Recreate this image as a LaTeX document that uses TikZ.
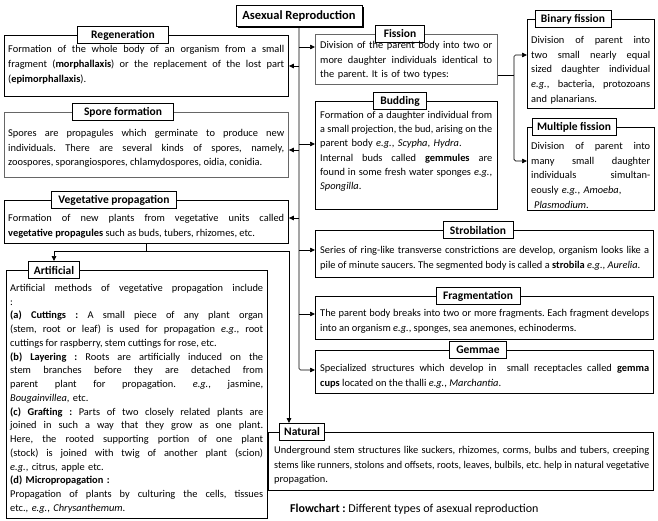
\documentclass[tikz,border=0pt]{standalone}
\usepackage{fontspec}
\setmainfont{Carlito}
\usepackage{graphicx}
\usetikzlibrary{arrows.meta,shadows}
\frenchspacing
\newcommand\jline[1]{\sbox0{\spaceskip=0pt\xspaceskip=0pt #1}\ifdim\wd0>\hsize\resizebox{\hsize}{\height}{\usebox0}\else\makebox[\hsize][s]{\spaceskip=0pt\xspaceskip=0pt #1}\fi}
\newcommand\lline[1]{\sbox0{\spaceskip=0pt\xspaceskip=0pt #1}\ifdim\wd0>\hsize\resizebox{\hsize}{\height}{\usebox0}\else\usebox0\fi}
\begin{document}
\frenchspacing
\begin{tikzpicture}[x=1pt,y=-1pt,
  mbox/.style={draw, line width=0.9pt, inner sep=0pt, anchor=north west},
  gbox/.style={mbox, draw=black!60},
  tbox/.style={draw, fill=white, line width=0.9pt, font=\bfseries\fontsize{11.5}{13}\selectfont, inner xsep=7pt, inner ysep=0pt, minimum height=17pt},
  txt/.style={anchor=north west, inner sep=0pt, align=left, font=\fontsize{10.4}{14.7}\selectfont, execute at begin node={\setlength{\parindent}{0pt}\frenchspacing}},
  arr/.style={-{Triangle[length=5pt,width=4.5pt]}, line width=0.7pt},
  ln/.style={line width=0.7pt}]
\useasboundingbox (0,0) rectangle (658,521);

% ---------- main title
\node[draw, fill=white, line width=0.9pt, minimum width=126pt, minimum height=21pt, inner sep=0pt,
  font=\bfseries\fontsize{12.5}{14}\selectfont,
  drop shadow={shadow xshift=2pt, shadow yshift=-2pt, fill=black, opacity=1}] (asex) at (299,16) {Asexual Reproduction};

% ---------- Regeneration
\node[mbox, minimum width=284pt, minimum height=61pt] (reg) at (4,35) {};
\node[tbox, inner xsep=14pt] (regT) at (123,35) {Regeneration};
\node[txt, text width=276pt] (regX) at (8,45.5) {%
\jline{Formation of the whole body of an organism from a small}\\
\jline{fragment (\textbf{morphallaxis}) or the replacement of the lost part}\\
(\textbf{epimorphallaxis}).};

% ---------- Spore formation
\node[gbox, minimum width=284pt, minimum height=65pt] (spo) at (4,112) {};
\node[tbox, inner xsep=12pt] (spoT) at (123,112) {Spore formation};
\node[txt, text width=276pt] (spoX) at (8,129) {%
\jline{Spores are propagules which germinate to produce new}\\
\jline{individuals. There are several kinds of spores, namely,}\\
\lline{zoospores, sporangiospores, chlamydospores, oidia, conidia.}};

% ---------- Vegetative propagation
\node[mbox, minimum width=284pt, minimum height=43pt] (veg) at (4,200) {};
\node[tbox] (vegT) at (114,200) {Vegetative propagation};
\node[txt, text width=276pt] (vegX) at (8,214) {%
\jline{Formation of new plants from vegetative units called}\\
\lline{\textbf{vegetative propagules} such as buds, tubers, rhizomes, etc.}};

% ---------- Artificial
\node[mbox, minimum width=261pt, minimum height=248pt] (art) at (6,270) {};
\node[tbox, inner xsep=5pt] (artT) at (54,270) {Artificial};
\node[txt, text width=253pt, font=\fontsize{10.4}{13.75}\selectfont] (artX) at (10,284) {%
\jline{Artificial methods of vegetative propagation include}\\
:\\
\jline{\textbf{(a) Cuttings :} A small piece of any plant organ}\\
\jline{(stem, root or leaf) is used for propagation \textit{e.g.}, root}\\
\lline{cuttings for raspberry, stem cuttings for rose, etc.}\\
\jline{\textbf{(b) Layering :} Roots are artificially induced on the}\\
\jline{stem branches before they are detached from}\\
\jline{parent plant for propagation. \textit{e.g.}, jasmine,}\\
\textit{Bougainvillea}, etc.\\
\jline{\textbf{(c) Grafting :} Parts of two closely related plants are}\\
\jline{joined in such a way that they grow as one plant.}\\
\jline{Here, the rooted supporting portion of one plant}\\
\jline{(stock) is joined with twig of another plant (scion)}\\
\textit{e.g.}, citrus, apple etc.\\
\textbf{(d) Micropropagation :}\\
\jline{Propagation of plants by culturing the cells, tissues}\\
etc., \textit{e.g.}, \textit{Chrysanthemum}.};

% ---------- Fission
\node[gbox, minimum width=182pt, minimum height=50pt] (fis) at (315,34) {};
\node[tbox, inner xsep=8pt] (fisT) at (400,34) {Fission};
\node[txt, text width=172pt] (fisX) at (320,41) {%
\jline{Division of the parent body into two or}\\
\jline{more daughter individuals identical to}\\
the parent. It is of two types:};

% ---------- Binary fission
\node[mbox, minimum width=127pt, minimum height=89pt] (bin) at (527,19) {};
\node[tbox, inner xsep=6pt] (binT) at (573,19) {Binary fission};
\node[txt, text width=119pt] (binX) at (531,36) {%
\jline{Division of parent into}\\
\jline{two small nearly equal}\\
\jline{sized daughter individual}\\
\jline{\textit{e.g.}, bacteria, protozoans}\\
and planarians.};

% ---------- Multiple fission
\node[mbox, minimum width=127pt, minimum height=83pt] (mul) at (527,127) {};
\node[tbox, inner xsep=5pt] (mulT) at (574,127) {Multiple fission};
\node[txt, text width=119pt] (mulX) at (531,142) {%
\jline{Division of parent into}\\
\jline{many small daughter}\\
\jline{individuals simultan-}\\
eously \textit{e.g.}, \textit{Amoeba},\\
\hspace*{3pt}\textit{Plasmodium}.};

% ---------- Budding
\node[mbox, minimum width=182pt, minimum height=108pt] (bud) at (315,101) {};
\node[tbox] (budT) at (400,101) {Budding};
\node[txt, text width=172pt, font=\fontsize{10.4}{14.2}\selectfont] (budX) at (320,111) {%
\jline{Formation of a daughter individual from}\\
\jline{a small projection, the bud, arising on the}\\
parent body \textit{e.g.}, \textit{Scypha}, \textit{Hydra}.\\
\jline{Internal buds called \textbf{gemmules} are}\\
\jline{found in some fresh water sponges \textit{e.g.},}\\
\textit{Spongilla}.};

% ---------- Strobilation
\node[mbox, minimum width=338pt, minimum height=47pt] (str) at (315,230) {};
\node[tbox] (strT) at (478,230) {Strobilation};
\node[txt, text width=329pt] (strX) at (320,246.5) {%
\jline{Series of ring-like transverse constrictions are develop, organism looks like a}\\
\lline{pile of minute saucers. The segmented body is called a \textbf{strobila} \textit{e.g.}, \textit{Aurelia}.}};

% ---------- Fragmentation
\node[mbox, minimum width=338pt, minimum height=43pt] (fra) at (315,296) {};
\node[tbox] (fraT) at (478,296) {Fragmentation};
\node[txt, text width=329pt] (fraX) at (320,309) {%
\jline{The parent body breaks into two or more fragments. Each fragment develops}\\
\lline{into an organism \textit{e.g.}, sponges, sea anemones, echinoderms.}};

% ---------- Gemmae
\node[mbox, minimum width=338pt, minimum height=43pt] (gem) at (315,350) {};
\node[tbox] (gemT) at (478,350) {Gemmae};
\node[txt, text width=329pt] (gemX) at (320,364) {%
\jline{Specialized structures which develop in \ small receptacles called \textbf{gemma}}\\
\lline{\textbf{cups} located on the thalli \textit{e.g.}, \textit{Marchantia}.}};

% ---------- Natural
\node[mbox, minimum width=385pt, minimum height=58pt] (nat) at (268,432) {};
\node[tbox, inner xsep=5pt] (natT) at (302,432) {Natural};
\node[txt, text width=375pt] (natX) at (274,446) {%
\jline{Underground stem structures like suckers, rhizomes, corms, bulbs and tubers, creeping}\\
\jline{stems like runners, stolons and offsets, roots, leaves, bulbils, etc. help in natural vegetative}\\
propagation.};

% ---------- caption
\node[anchor=west, inner sep=0pt, font=\fontsize{12}{14}\selectfont] (cap) at (290,509)
  {\textbf{Flowchart :} Different types of asexual reproduction};

% ---------- connectors
\draw[arr, rounded corners=1.5pt] (asex.south) |- (gem.west |- 0,370);
\draw[arr] (asex.south |- 0,47) -- (fis.west |- 0,47);
\draw[arr] (asex.south |- 0,66) -- (reg.east |- 0,66);
\draw[arr] (asex.south |- 0,144) -- (bud.west |- 0,144);
\draw[arr] (asex.south |- 0,150) -- (spo.east |- 0,150);
\draw[arr] (asex.south |- 0,218) -- (veg.east |- 0,218);
\draw[arr] (asex.south |- 0,250) -- (str.west |- 0,250);
\draw[arr] (asex.south |- 0,314) -- (fra.west |- 0,314);

\coordinate (fj) at (514,75);
\draw[ln] (fis.east |- fj) -- (fj);
\draw[arr, rounded corners=1.5pt] (fj) |- (bin.west |- 0,55);
\draw[arr, rounded corners=1.5pt] (fj) |- (mul.west |- 0,161);

\coordinate (vj) at (146,251);
\draw[ln] (veg.south -| vj) -- (vj);
\draw[arr] (vj) -| (artT.north);
\draw[arr] (vj) -| ([xshift=-13pt]natT.north);
\end{tikzpicture}
\end{document}
